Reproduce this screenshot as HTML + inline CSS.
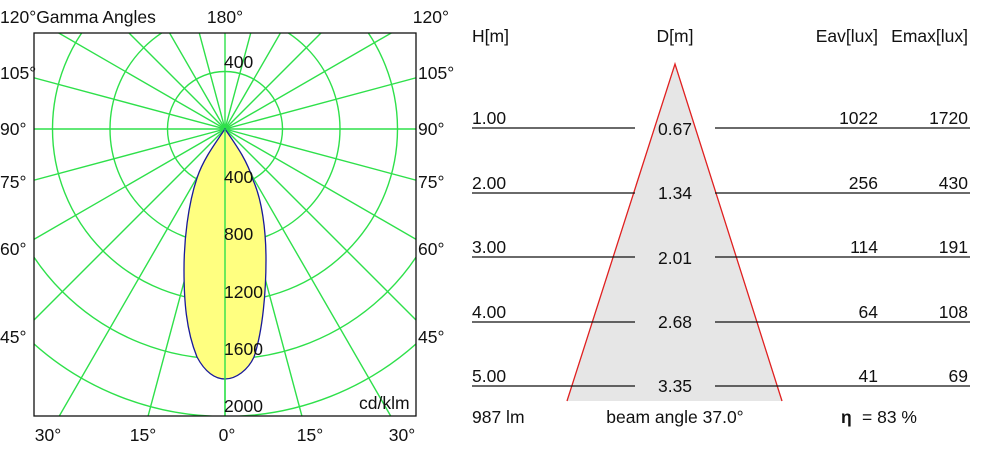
<!DOCTYPE html>
<html><head><style>html,body{margin:0;background:#fff;overflow:hidden;width:990px;height:450px}svg{display:block}svg text{font-family:"Liberation Sans",sans-serif;font-size:17.5px;fill:#111}</style></head><body>
<svg width="990" height="450" xmlns="http://www.w3.org/2000/svg">
<defs><clipPath id="c"><rect x="34" y="33" width="382" height="383"/></clipPath></defs>
<g clip-path="url(#c)" stroke="#2ee04a" stroke-width="1.4" fill="none">
<circle cx="225" cy="129" r="57.5"/><circle cx="225" cy="129" r="115"/><circle cx="225" cy="129" r="172.5"/><circle cx="225" cy="129" r="230"/><circle cx="225" cy="129" r="287.5"/>
<g id="rays"></g>
</g>
<path d="M225,129 C214,145 203,160 197,178 C188,205 184,240 184,270 C184,300 186,330 197,357 C205,372 215,379 225,379 C236,379 248,370 254,357 C263,330 266,290 266,260 C266,230 262,200 253,180 C247,160 236,145 225,129 Z" fill="#ffff80" stroke="#1a1a9a" stroke-width="1.3"/>
<line x1="225" y1="129" x2="225" y2="416" stroke="#2ee04a" stroke-width="1.4"/>
<rect x="34" y="33" width="382" height="383" fill="none" stroke="#111" stroke-width="1.3"/>
<text x="224" y="68">400</text><text x="224" y="183">400</text><text x="224" y="240">800</text><text x="224" y="298">1200</text><text x="224" y="355">1600</text><text x="224" y="412">2000</text>
<text x="359" y="409">cd/klm</text>
<text x="0" y="23">120°Gamma Angles</text><text x="225" y="23" text-anchor="middle">180°</text><text x="449" y="23" text-anchor="end">120°</text>
<text x="0" y="79">105°</text><text x="0" y="135">90°</text><text x="0" y="188">75°</text><text x="0" y="255">60°</text><text x="0" y="343">45°</text>
<text x="418" y="79">105°</text><text x="418" y="135">90°</text><text x="418" y="188">75°</text><text x="418" y="255">60°</text><text x="418" y="343">45°</text>
<text x="48" y="441" text-anchor="middle">30°</text><text x="143" y="441" text-anchor="middle">15°</text><text x="227" y="441" text-anchor="middle">0°</text><text x="310" y="441" text-anchor="middle">15°</text><text x="402" y="441" text-anchor="middle">30°</text>
<polygon points="675,64 567,401 782,401" fill="#e6e6e6"/>
<polyline points="567,401 675,64 782,401" fill="none" stroke="#e02020" stroke-width="1.3"/>
<g stroke="#111" stroke-width="1.3">
<line x1="472" y1="128" x2="635" y2="128"/><line x1="715" y1="128" x2="970" y2="128"/>
<line x1="472" y1="193" x2="635" y2="193"/><line x1="715" y1="193" x2="970" y2="193"/>
<line x1="472" y1="257" x2="635" y2="257"/><line x1="715" y1="257" x2="970" y2="257"/>
<line x1="472" y1="322" x2="635" y2="322"/><line x1="715" y1="322" x2="970" y2="322"/>
<line x1="472" y1="386" x2="635" y2="386"/><line x1="715" y1="386" x2="970" y2="386"/>
</g>
<text x="472" y="42">H[m]</text><text x="675" y="42" text-anchor="middle">D[m]</text><text x="878" y="42" text-anchor="end">Eav[lux]</text><text x="968" y="42" text-anchor="end">Emax[lux]</text>
<text x="472" y="124">1.00</text><text x="472" y="189">2.00</text><text x="472" y="253">3.00</text><text x="472" y="318">4.00</text><text x="472" y="382">5.00</text>
<text x="675" y="135" text-anchor="middle">0.67</text><text x="675" y="199" text-anchor="middle">1.34</text><text x="675" y="264" text-anchor="middle">2.01</text><text x="675" y="328" text-anchor="middle">2.68</text><text x="675" y="392" text-anchor="middle">3.35</text>
<text x="878" y="124" text-anchor="end">1022</text><text x="968" y="124" text-anchor="end">1720</text>
<text x="878" y="189" text-anchor="end">256</text><text x="968" y="189" text-anchor="end">430</text>
<text x="878" y="253" text-anchor="end">114</text><text x="968" y="253" text-anchor="end">191</text>
<text x="878" y="318" text-anchor="end">64</text><text x="968" y="318" text-anchor="end">108</text>
<text x="878" y="382" text-anchor="end">41</text><text x="968" y="382" text-anchor="end">69</text>
<text x="472" y="423">987 lm</text><text x="675" y="423" text-anchor="middle">beam angle 37.0°</text><text x="841" y="423" style="font-weight:bold">η</text><text x="862" y="423">= 83 %</text>
</svg>
<script>
var g=document.getElementById('rays');
for(var i=0;i<24;i++){var a=i*15*Math.PI/180;var x=225+600*Math.sin(a),y=129+600*Math.cos(a);
var l=document.createElementNS('http://www.w3.org/2000/svg','line');l.setAttribute('x1',225);l.setAttribute('y1',129);l.setAttribute('x2',x);l.setAttribute('y2',y);g.appendChild(l);}
</script>
</body></html>
